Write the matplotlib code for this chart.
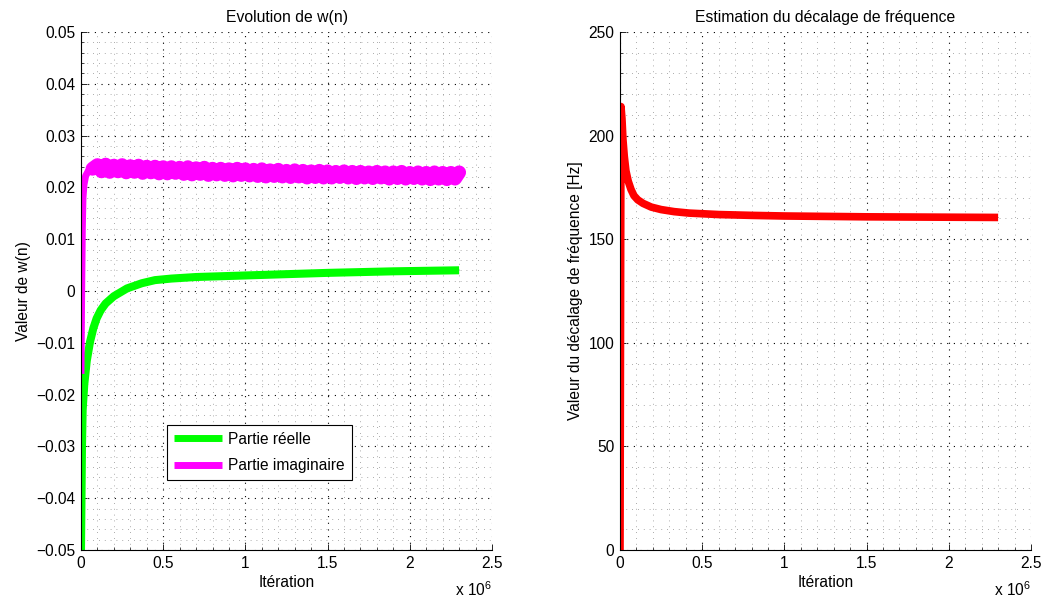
import numpy as np
import matplotlib
matplotlib.use("Agg")
import matplotlib.pyplot as plt
from matplotlib.ticker import AutoMinorLocator, FuncFormatter

plt.rcParams['font.family'] = ['Liberation Sans', 'DejaVu Sans']
plt.rcParams['font.size'] = 11.2
plt.rcParams['mathtext.fontset'] = 'custom'
plt.rcParams['mathtext.rm'] = 'Liberation Sans'

# --- data (iterations in units of 1e6) ---
real_n = [0, 0.003, 0.006, 0.01, 0.02, 0.035, 0.055, 0.075, 0.095, 0.12, 0.15, 0.2,
          0.28, 0.37, 0.45, 0.55, 0.7, 0.9, 1.2, 1.5, 1.9, 2.3]
real_val = [-0.05, -0.04, -0.03, -0.023, -0.018, -0.0135, -0.0098, -0.0072, -0.0053,
            -0.0037, -0.0024, -0.001, 0.0005, 0.0015, 0.0021, 0.0024, 0.0027, 0.0029,
            0.0032, 0.0035, 0.0038, 0.0040]

imag_rise_n = [0, 0.004, 0.008, 0.012, 0.018, 0.028, 0.045, 0.07]
imag_rise_val = [-0.016, 0.0, 0.012, 0.018, 0.0205, 0.0222, 0.0232, 0.0236]
imag_ripple_start, imag_ripple_end = 0.1, 2.3
imag_ripple_val = [
    0.0243, 0.0231, 0.0244, 0.0230, 0.0242, 0.0231, 0.0243, 0.0229, 0.0241, 0.0230,
    0.0242, 0.0228, 0.0240, 0.0229, 0.0240, 0.0227, 0.0239,
    0.0227, 0.0239, 0.0228, 0.0238, 0.0226, 0.0239, 0.0225, 0.0237, 0.0226, 0.0238,
    0.0224, 0.0236, 0.0225, 0.0236, 0.0224, 0.0235, 0.0223, 0.0236, 0.0224, 0.0235,
    0.0223, 0.0234, 0.0222, 0.0235, 0.0221, 0.0233, 0.0222, 0.0234, 0.0221, 0.0232,
    0.0220, 0.0233, 0.0221, 0.0232, 0.0219, 0.0231, 0.0220, 0.0232, 0.0219, 0.0231,
    0.0219, 0.0230, 0.0220, 0.0231, 0.0219, 0.0230, 0.0218, 0.0230, 0.0219, 0.0229,
    0.0218, 0.0230, 0.0219, 0.0229, 0.0217, 0.0229, 0.0218, 0.0230, 0.0217, 0.0228,
    0.0218, 0.0229, 0.0217, 0.0228, 0.0216, 0.0229, 0.0217, 0.0228, 0.0216, 0.0228,
    0.0217, 0.0229,
]

freq_n = [0, 0.006, 0.012, 0.018, 0.026, 0.036, 0.05, 0.067, 0.085, 0.108, 0.14, 0.19,
          0.25, 0.33, 0.42, 0.6, 0.8, 1.0, 1.5, 2.3]
freq_val = [0, 214, 208, 198, 190, 183, 178, 174, 171, 169, 167.3, 165.5, 164.3, 163.3,
            162.6, 161.9, 161.5, 161.2, 160.8, 160.5]

x_ticks = [0, 0.5, 1, 1.5, 2, 2.5]
left_yticks = [0.05, 0.04, 0.03, 0.02, 0.01, 0, -0.01, -0.02, -0.03, -0.04, -0.05]
right_yticks = [0, 50, 100, 150, 200, 250]

# build imaginary series
ripple_n = np.linspace(imag_ripple_start, imag_ripple_end, len(imag_ripple_val))
imag_n = np.concatenate([imag_rise_n, ripple_n])
imag_val = np.concatenate([imag_rise_val, imag_ripple_val])
n_rise = len(imag_rise_n)

scale = 1e6
fig = plt.figure(figsize=(10.43, 5.98), dpi=100)
ax1 = fig.add_axes([81 / 1043, 1 - 550 / 598, 411 / 1043, 518 / 598])
ax2 = fig.add_axes([620 / 1043, 1 - 550 / 598, 411 / 1043, 518 / 598])

lw = 5


def style_axes(ax):
    for s in ['top', 'right']:
        ax.spines[s].set_visible(False)
    for s in ['left', 'bottom']:
        ax.spines[s].set_linewidth(0.8)
    ax.xaxis.set_minor_locator(AutoMinorLocator(5))
    ax.yaxis.set_minor_locator(AutoMinorLocator(5))
    ax.tick_params(which='both', direction='in', top=False, right=False)
    ax.tick_params(which='major', length=4, width=0.6, pad=4)
    ax.tick_params(which='minor', length=2, width=0.5)
    ax.grid(which='major', color='k', linestyle=(0, (1, 5)), linewidth=0.8)
    ax.grid(which='minor', color='#8f8f8f', linestyle=(0, (1, 6)), linewidth=0.6)
    ax.set_xlim(0, 2.5 * scale)
    ax.set_xticks([t * scale for t in x_ticks])
    ax.xaxis.set_major_formatter(FuncFormatter(lambda v, p: '%g' % round(v / scale, 3)))
    ax.set_xlabel('Itération', labelpad=3)
    ax.text(1.0, -0.088, r'x 10$^{6}$', transform=ax.transAxes, ha='right',
            va='baseline')


# left plot
ax1.plot(np.array(real_n) * scale, real_val, color='#00ff00', lw=lw + 0.8,
         solid_capstyle='butt', solid_joinstyle='round', label='Partie réelle')
ax1.plot(imag_n * scale, imag_val, color='#ff00ff', lw=lw,
         solid_capstyle='butt', solid_joinstyle='round', label='Partie imaginaire')
# the ripple of the imaginary part fills a wider band
ax1.plot(imag_n[n_rise - 1:] * scale, imag_val[n_rise - 1:], color='#ff00ff', lw=10,
         solid_capstyle='round', solid_joinstyle='round')
style_axes(ax1)
ax1.set_ylim(-0.05, 0.05)
ax1.set_yticks(left_yticks)
ax1.set_yticklabels([('%g' % t).replace('-', '\u2212') for t in left_yticks])
ax1.set_ylabel('Valeur de w(n)')
ax1.set_title('Evolution de w(n)', fontsize=11.3, pad=7)
leg = ax1.legend(loc='lower left', bbox_to_anchor=(0.2085, 0.1348), borderaxespad=0,
                 fancybox=False, framealpha=1, edgecolor='k', handlelength=3.1,
                 handletextpad=0.4, labelspacing=0.75, borderpad=0.45)
leg.get_frame().set_linewidth(0.8)
for h in leg.get_lines():
    h.set_linewidth(lw)

# right plot
ax2.plot(np.array(freq_n) * scale, freq_val, color='#ff0000', lw=lw + 0.5,
         solid_capstyle='butt', solid_joinstyle='round')
style_axes(ax2)
ax2.set_ylim(0, 250)
ax2.set_yticks(right_yticks)
ax2.set_ylabel('Valeur du décalage de fréquence [Hz]')
ax2.set_title('Estimation du décalage de fréquence', fontsize=11.3, pad=7)

fig.savefig('out.png', dpi=100)
